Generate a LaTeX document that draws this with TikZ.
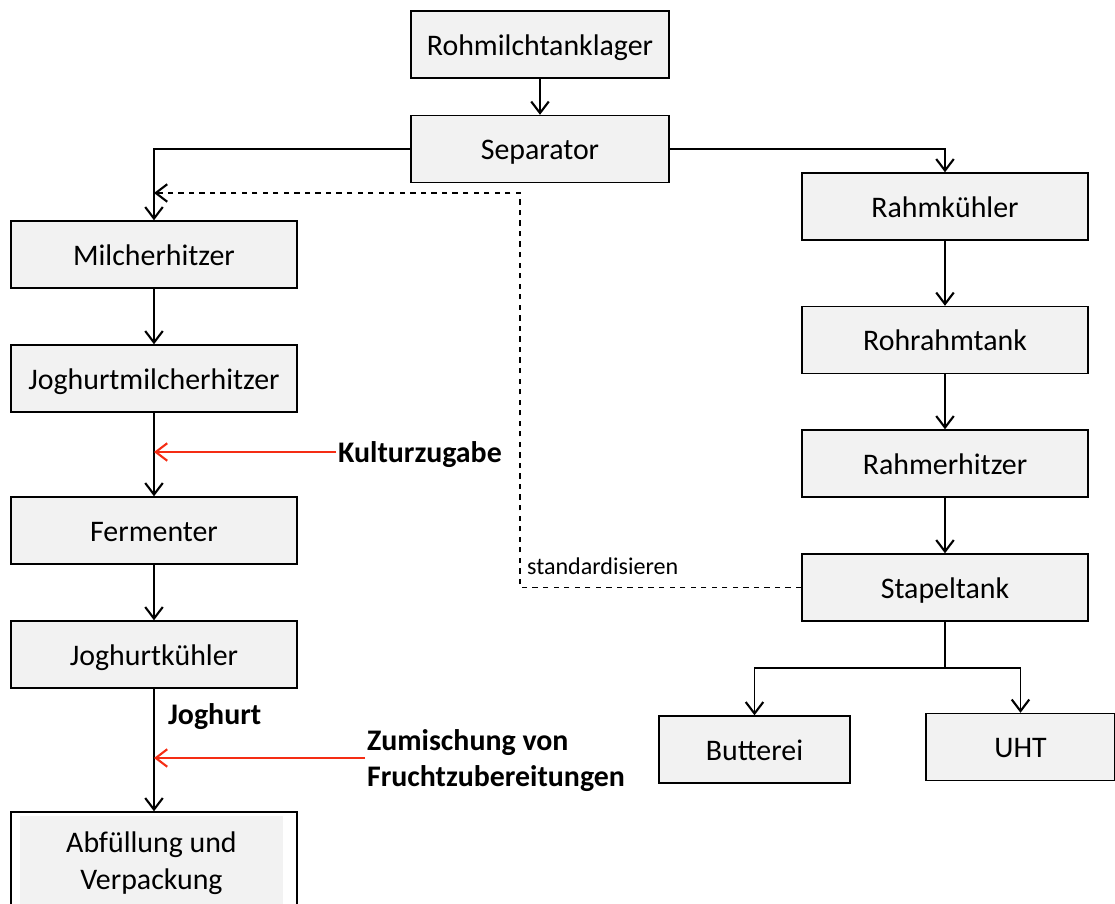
\documentclass[tikz,border=0pt]{standalone}
\usepackage{fontspec}
\setmainfont{Carlito}
\usepackage{tikz}
\usetikzlibrary{arrows.meta}
\usetikzlibrary{positioning}

\definecolor{boxgray}{HTML}{F2F2F2}
\definecolor{zugaberot}{RGB}{245,45,20}

\tikzset{
    anlage/.style={draw, line width=0.8pt, fill=boxgray, minimum width=5.72cm, minimum height=1.34cm,
        font=\fontsize{17}{21}\selectfont},
    zeile/.style={text height=16pt, text depth=4pt},
    fluss/.style={line width=1.1pt, -{Straight Barb[length=2.3mm,width=3.5mm,line width=1.2pt]}},
    rueck/.style={fluss, dashed, line width=0.8pt},
    zugabe/.style={line width=1.1pt, draw=zugaberot, -{Straight Barb[length=2.3mm,width=3.5mm,line width=1.2pt]}},
    schild/.style={font=\bfseries\fontsize{17}{20.5}\selectfont, inner sep=1pt, align=left},
}

\begin{document}
\begin{tikzpicture}
            \clip (0,0) rectangle (22.30,-18.08);

            % Hauptlinie
            \node[anlage, zeile, minimum width=5.16cm] (roh) at (10.80,-0.89) {Rohmilchtanklager};
            \node[anlage, zeile, minimum width=5.16cm] (sep) at (10.80,-2.98) {Separator};

            % Joghurtlinie
            \node[anlage, zeile] (milch) at (3.08,-5.09) {Milcherhitzer};
            \node[anlage, zeile] (jmilch) at (3.08,-7.57) {Joghurtmilcherhitzer};
            \node[anlage, zeile] (ferm) at (3.08,-10.61) {Fermenter};
            \node[anlage, zeile] (jkuehl) at (3.08,-13.09) {Joghurtkühler};
            \node[anlage, fill=white, minimum height=2.0cm] (abfrahmen) at (3.08,-17.24) {};
            \node[anlage, draw=none, minimum width=5.26cm, minimum height=1.90cm, align=center] (abf) at (3.03,-17.27) {Abfüllung und\\Verpackung};

            % Rahmlinie
            \node[anlage, zeile] (rkuehl) at (18.90,-4.13) {Rahmkühler};
            \node[anlage, zeile] (rohrahm) at (18.90,-6.80) {Rohrahmtank};
            \node[anlage, zeile] (rerhitz) at (18.90,-9.27) {Rahmerhitzer};
            \node[anlage, zeile] (stapel) at (18.90,-11.75) {Stapeltank};
            \node[anlage, zeile, minimum width=3.82cm] (butter) at (15.09,-14.99) {Butterei};
            \node[anlage, zeile, minimum width=3.78cm] (uht) at (20.41,-14.94) {UHT};

            % Beschriftungen
            \node[schild, anchor=west] (kultur) at (6.72,-9.10) {Kulturzugabe};
            \node[schild, anchor=west] (joghurt) at (3.32,-14.34) {Joghurt};
            \node[schild, anchor=west] (zumisch) at (7.30,-15.22) {Zumischung von\\Fruchtzubereitungen};
            \node[anchor=west, inner sep=1pt, font=\fontsize{13.7}{16}\selectfont] (std) at (10.50,-11.32) {standardisieren};

            \coordinate (rueckknick) at (10.40,-3.86);
            \coordinate (verteiler) at (18.90,-13.36);

            % Verbindungen
            \draw[fluss] (roh) -- (sep);
            \draw[fluss] (sep.west) -| (milch.north);
            \draw[fluss] (sep.east) -| (rkuehl.north);
            \draw[fluss] (milch) -- (jmilch);
            \draw[fluss] (jmilch) -- (ferm);
            \draw[fluss] (ferm) -- (jkuehl);
            \draw[fluss] (jkuehl) -- (abfrahmen);
            \draw[fluss] (rkuehl) -- (rohrahm);
            \draw[fluss] (rohrahm) -- (rerhitz);
            \draw[fluss] (rerhitz) -- (stapel);
            \draw[line width=1.1pt] (stapel.south) -- (verteiler);
            \draw[fluss] (verteiler) -| (butter.north);
            \draw[fluss] (verteiler) -| (uht.north);
            \draw[rueck] (stapel.west) -| (rueckknick) -- (rueckknick -| milch.north);
            \draw[zugabe] ([yshift=0.06cm]kultur.west) -- ([yshift=0.06cm]kultur.west -| jmilch.south);
            \draw[zugabe] ([yshift=0.06cm]zumisch.west) -- ([yshift=0.06cm]zumisch.west -| jkuehl.south);
        \end{tikzpicture}
\end{document}
